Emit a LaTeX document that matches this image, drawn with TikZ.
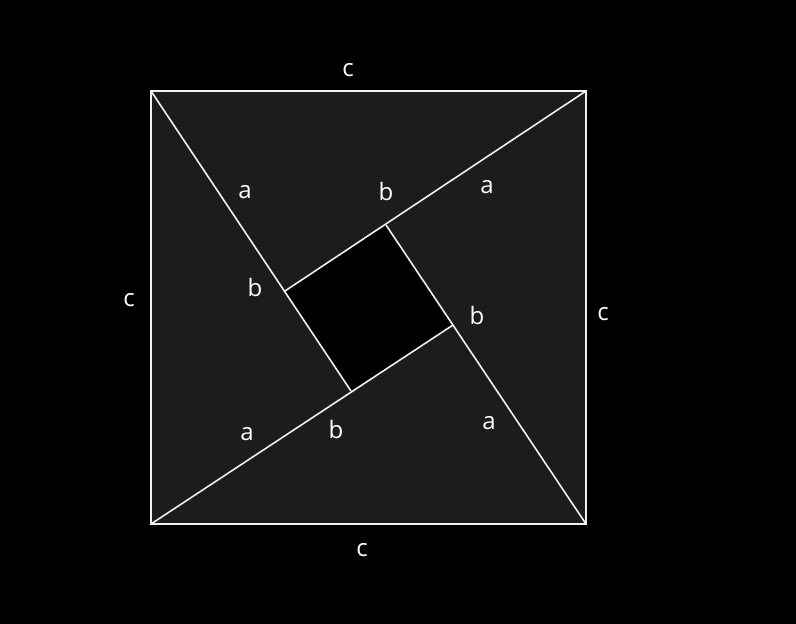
\documentclass[tikz,border=0pt]{standalone}
\usepackage{fontspec}
\setmainfont{Open Sans}
\definecolor{tri}{HTML}{1C1C1C}
\definecolor{ln}{HTML}{F0F0F0}
\tikzset{
  edge/.style={draw=ln, line width=1.6pt, line join=miter},
  lab/.style={text=white, font=\fontsize{24}{28}\selectfont, inner sep=0pt, anchor=center}
}
\begin{document}
\begin{tikzpicture}[x=1pt,y=-1pt]
\fill[black] (0,0) rectangle (796,624);
\useasboundingbox (0,0) rectangle (796,624);
\coordinate (TL) at (151,91);
\coordinate (TR) at (586,91);
\coordinate (BR) at (586,524);
\coordinate (BL) at (151,524);
\coordinate (P) at (285,291);
\coordinate (Q) at (386,225);
\coordinate (R) at (453,325);
\coordinate (S) at (351,391);
\fill[tri] (TL) -- (TR) -- (BR) -- (BL) -- cycle;
\fill[black] (P) -- (Q) -- (R) -- (S) -- cycle;
\draw[edge] (TL) -- (TR) -- (BR) -- (BL) -- cycle;
\draw[edge] (TL) -- (S);
\draw[edge] (TR) -- (P);
\draw[edge] (BR) -- (Q);
\draw[edge] (BL) -- (R);
\node[lab] (c1) at (348,70) {c};
\node[lab] (c2) at (129,300) {c};
\node[lab] (c3) at (603,314) {c};
\node[lab] (c4) at (362,550) {c};
\node[lab] (a1) at (245,192) {a};
\node[lab] (b1) at (386,191) {b};
\node[lab] (a2) at (487,187) {a};
\node[lab] (b2) at (255,287) {b};
\node[lab] (b3) at (477,315) {b};
\node[lab] (a3) at (247,434) {a};
\node[lab] (b4) at (336,429) {b};
\node[lab] (a4) at (489,423) {a};
\end{tikzpicture}
\end{document}
